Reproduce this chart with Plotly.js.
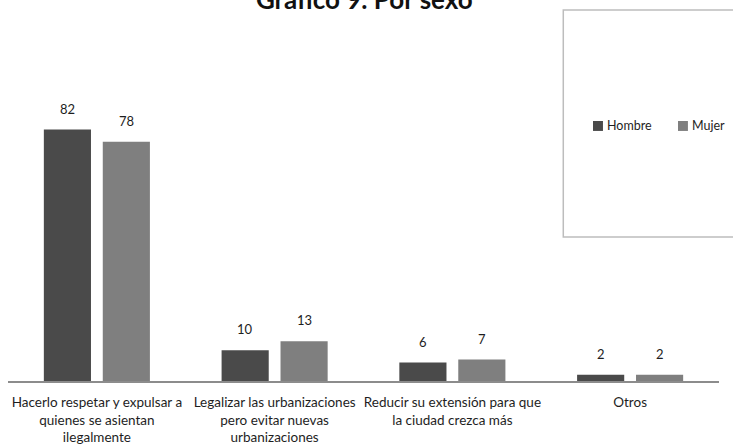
<!DOCTYPE html>
<html>
<head>
<meta charset="utf-8">
<script src="https://cdn.plot.ly/plotly-3.0.1.min.js"></script>
<style>html,body{margin:0;padding:0;background:#fff;}#chart{width:733px;height:444px;}</style>
</head>
<body>
<div id="chart"></div>
<script>
const categories = [
  "Hacerlo respetar y expulsar a<br>quienes se asientan<br>ilegalmente",
  "Legalizar las urbanizaciones<br>pero evitar nuevas<br>urbanizaciones",
  "Reducir su extensión para que<br>la ciudad crezca más",
  "Otros"
];
const hombre = [82, 10, 6, 2];
const mujer = [78, 13, 7, 2];
const seriesNames = ["Hombre", "Mujer"];
const seriesColors = ["#4a4a4a", "#7f7f7f"];

const FONT = "Lato, 'Open Sans', sans-serif";

const traces = [hombre, mujer].map((vals, i) => ({
  type: "bar",
  name: seriesNames[i],
  x: categories,
  y: vals,
  marker: {color: seriesColors[i]},
  hoverinfo: "none",
  showlegend: false
}));

// value labels
const annotations = [];
[hombre, mujer].forEach((vals, i) => {
  vals.forEach((v, j) => {
    annotations.push({
      x: categories[j], y: v, xref: "x", yref: "y",
      text: String(v), showarrow: false,
      xshift: (i === 0 ? -29.5 : 29.5), yshift: 21, yanchor: "middle",
      font: {family: FONT, size: 13, color: "#1e1e1e"}
    });
  });
});

// custom legend (swatches + labels) inside a framed box
// plot area: x 8..719 (711px), y 105..381 (276px)
const legendX = [0.8228, 0.9423];
const legendY = 0.924;
const shapes = [{type: "rect", xref: "paper", yref: "paper", x0: 0.781, x1: 1.04, y0: 0.522, y1: 1.344,
                 line: {color: "#bdbdbd", width: 1.5}, fillcolor: "rgba(0,0,0,0)"}];
seriesNames.forEach((name, i) => {
  shapes.push({type: "rect", xref: "paper", yref: "paper",
               x0: legendX[i], x1: legendX[i] + 0.014, y0: legendY - 0.018, y1: legendY + 0.018,
               line: {width: 0}, fillcolor: seriesColors[i]});
  annotations.push({xref: "paper", yref: "paper", x: legendX[i] + 0.0175, y: legendY,
                    xanchor: "left", yanchor: "middle", text: name, showarrow: false,
                    font: {family: FONT, size: 12.5, color: "#1e1e1e"}});
});

const layout = {
  width: 733, height: 444,
  margin: {l: 8, r: 14, t: 105, b: 63, autoexpand: false},
  paper_bgcolor: "#fff", plot_bgcolor: "#fff",
  title: {text: "<b>Gráfico 9. Por sexo</b>", x: 0.497, xanchor: "center", y: 1.0, yanchor: "middle",
          font: {family: FONT, size: 26, color: "#111"}},
  barmode: "group",
  bargap: 0.337,
  bargroupgap: 0.2,
  showlegend: false,
  xaxis: {showgrid: false, zeroline: false, showline: true, linecolor: "#8c8c8c", linewidth: 2,
          ticks: "outside", ticklen: 8, tickcolor: "rgba(0,0,0,0)",
          tickfont: {family: FONT, size: 13.5, color: "#1e1e1e"}},
  yaxis: {range: [0, 90], visible: false, showgrid: false, zeroline: false, fixedrange: true},
  shapes: shapes,
  annotations: annotations
};

Plotly.newPlot("chart", traces, layout, {staticPlot: true, displayModeBar: false});
</script>
</body>
</html>
